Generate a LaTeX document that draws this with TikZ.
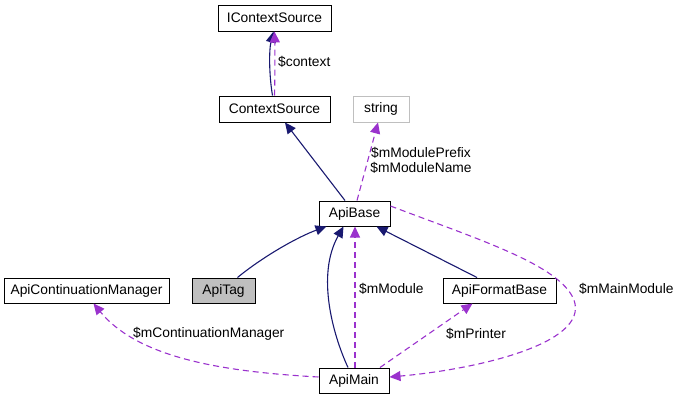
\documentclass[tikz,border=0pt]{standalone}
\usepackage{fontspec}
\setmainfont{Liberation Sans}
\usetikzlibrary{arrows.meta}
\definecolor{inhcol}{HTML}{191970}
\definecolor{usecol}{HTML}{9A32CD}
\definecolor{grayborder}{HTML}{BFBFBF}
\definecolor{tagfill}{HTML}{BFBFBF}
\tikzset{
  cls/.style={draw=black, line width=1pt, fill=white, inner sep=0pt, font=\fontsize{13.8}{15}\selectfont},
  inh/.style={draw=inhcol, line width=1.1pt, -{Triangle[length=11pt,width=10pt]}},
  use/.style={draw=usecol, line width=1.1pt, dash pattern=on 6pt off 4pt, -{Triangle[length=11pt,width=10pt]}},
  lbl/.style={font=\fontsize{13.8}{15}\selectfont, inner sep=0pt, anchor=west}
}
\begin{document}
\begin{tikzpicture}[x=1pt,y=-1pt]
\useasboundingbox (0,0) rectangle (673,400);
\node[cls, minimum width=113pt, minimum height=26pt] (ics) at (274.5,18) {IContextSource};
\node[cls, minimum width=111pt, minimum height=26pt] (cs) at (274.5,109) {ContextSource};
\node[cls, draw=grayborder, minimum width=56pt, minimum height=26pt] (str) at (381,109) {string};
\node[cls, minimum width=71pt, minimum height=25pt] (ab) at (354.5,213.5) {ApiBase};
\node[cls, minimum width=113pt, minimum height=25pt] (afb) at (499.5,290.5) {ApiFormatBase};
\node[cls, minimum width=70pt, minimum height=25pt] (am) at (354,380.5) {ApiMain};
\node[cls, minimum width=165pt, minimum height=25pt] (acm) at (86.5,290.5) {ApiContinuationManager};
\node[cls, fill=tagfill, minimum width=63pt, minimum height=25pt] (at) at (223.5,290.5) {ApiTag};

% ContextSource -> IContextSource
\draw[inh] ([xshift=-2pt]cs.north) .. controls (269,75) and (269,50) .. ([xshift=-1pt]ics.south);
\draw[use] ([xshift=0pt]cs.north) .. controls (275,75) and (275,50) .. ([xshift=0pt]ics.south);
\node[lbl] (lctx) at (278,62) {\$context};

% ApiBase -> ContextSource
\draw[inh] ([xshift=-9.5pt]ab.north) -- ([xshift=10.5pt]cs.south);
% ApiBase -> string
\draw[use] ([xshift=2.5pt]ab.north) -- ([xshift=-3pt]str.south);
\node[font=\fontsize{13.8}{15}\selectfont, align=center, inner sep=0pt] (lmod) at (421,160) {\$mModulePrefix\\\$mModuleName};

% ApiTag -> ApiBase
\draw[inh] ([xshift=14pt]at.north) .. controls (265,255) and (300,236) .. ([xshift=-28pt]ab.south);
% ApiMain -> ApiBase (inheritance)
\draw[inh] ([xshift=-6pt]am.north) .. controls (333,335) and (316,275) .. ([xshift=-11pt]ab.south);
% ApiMain -> ApiBase ($mModule)
\draw[use] ([xshift=1pt]am.north) -- ([xshift=0.5pt]ab.south);
\node[lbl] (lmm) at (359,289) {\$mModule};
% ApiFormatBase -> ApiBase
\draw[inh] ([xshift=-22.5pt]afb.north) -- ([xshift=22pt]ab.south);
% ApiMain -> ApiFormatBase ($mPrinter)
\draw[use] ([xshift=26pt]am.north) -- ([xshift=-27pt]afb.south);
\node[lbl] (lpr) at (446,334) {\$mPrinter};
% ApiBase -> ApiMain ($mMainModule)
\coordinate (mmc) at (574,300);
\draw[use] ([yshift=7.5pt]ab.east) .. controls (480,240) and (560,265) .. (mmc) .. controls (590,345) and (470,370) .. ([yshift=3.5pt]am.east);
\node[lbl] (lmmm) at (579,289) {\$mMainModule};
% ApiMain -> ApiContinuationManager
\draw[use] ([yshift=3.5pt]am.west) .. controls (230,372) and (140,360) .. ([xshift=7pt]acm.south);
\node[lbl] (lcm) at (133,334) {\$mContinuationManager};
\end{tikzpicture}
\end{document}
